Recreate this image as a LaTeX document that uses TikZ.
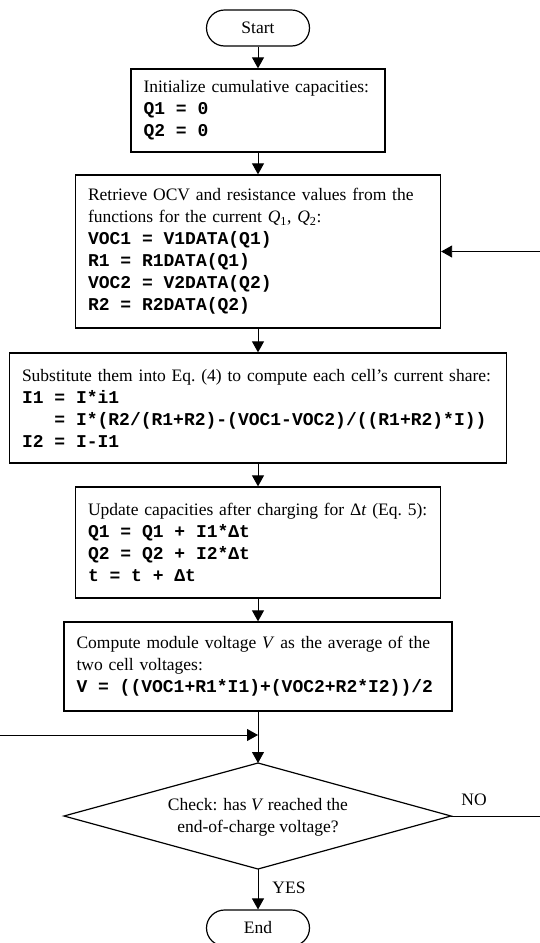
\documentclass[tikz,border=0pt]{standalone}
\usepackage{fontspec}
\setmainfont{Liberation Serif}
\newfontfamily\codefont{Liberation Mono}
\usetikzlibrary{arrows.meta}
\newcommand\codeln[1]{{\codefont\bfseries\fontsize{18}{22}\selectfont\spaceskip=10.8pt\relax #1}}
\newcommand\spreadln[2]{\makebox[#1][s]{#2}}
\begin{document}
\begin{tikzpicture}[x=1pt,y=-1pt,
  every node/.style={font=\fontsize{17.5}{22}\selectfont},
  box/.style={draw, line width=1.3pt, inner xsep=12.5pt, inner ysep=0pt, align=left},
  term/.style={draw, line width=1.2pt, rounded corners=18pt, minimum width=103pt, minimum height=36pt, inner sep=0pt},
  decision/.style={line width=1.2pt, line join=miter},
  conn/.style={line width=0.9pt, -{Triangle[length=11pt,width=12pt]}},
  plain/.style={line width=0.9pt},
  lbl/.style={inner sep=0pt}
]
\useasboundingbox (0,0) rectangle (540,943);

\node[term] (start) at (258,28) {Start};

\node[box, text width=229pt, minimum height=83pt] (b1) at (258,110.5) {%
\spreadln{226pt}{Initialize cumulative capacities:}\\
\codeln{Q1 = 0}\\
\codeln{Q2 = 0}};

\node[box, text width=340pt, minimum height=153pt] (b2) at (258,251.5) {%
\spreadln{327pt}{Retrieve OCV and resistance values from the}\\
functions for the current \textit{Q}\textsubscript{1}, \textit{Q}\textsubscript{2}:\\
\codeln{VOC1 = V1DATA(Q1)}\\
\codeln{R1 = R1DATA(Q1)}\\
\codeln{VOC2 = V2DATA(Q2)}\\
\codeln{R2 = R2DATA(Q2)}};

\node[box, text width=472pt, minimum height=110pt] (b3) at (258,408) {%
\spreadln{476pt}{Substitute them into Eq.\ (4) to compute each cell’s current share:}\\
\codeln{I1 = I*i1}\\
\codeln{\phantom{I1} = I*(R2/(R1+R2)-(VOC1-VOC2)/((R1+R2)*I))}\\
\codeln{I2 = I-I1}};

\node[box, text width=340pt, minimum height=111pt] (b4) at (258,542.5) {%
Update capacities after charging for Δ\textit{t} (Eq.\ 5):\\
\codeln{Q1 = Q1 + I1*Δt}\\
\codeln{Q2 = Q2 + I2*Δt}\\
\codeln{t = t + Δt}};

\node[box, text width=363pt, minimum height=89pt] (b5) at (258,666.5) {%
\spreadln{352pt}{Compute module voltage \textit{V} as the average of the}\\
two cell voltages:\\
\codeln{V = ((VOC1+R1*I1)+(VOC2+R2*I2))/2}};

\coordinate (dtop) at (258,763);
\coordinate (dright) at (451,816);
\coordinate (dbot) at (258,869);
\coordinate (dleft) at (64,816);
\draw[decision] (dtop) -- (dright) -- (dbot) -- (dleft) -- cycle;
\node[align=center, inner sep=0pt] (dia) at (258,817) {Check: has \textit{V} reached the\\end-of-charge voltage?};

\node[term] (end) at (258,928) {End};

\node[lbl] (no) at (474,800) {NO};
\node[lbl] (yes) at (289,888) {YES};

\coordinate (merge) at (258,735);
\coordinate (leftin) at (0,735);
\coordinate (fbin) at (540,251.5);
\coordinate (noout) at (540,816);

\draw[conn] (start) -- (b1);
\draw[conn] (b1) -- (b2);
\draw[conn] (b2) -- (b3);
\draw[conn] (b3) -- (b4);
\draw[conn] (b4) -- (b5);
\draw[conn] (b5.south) -- (dtop);
\draw[conn] (leftin) -- (merge);
\draw[conn] (fbin) -- (b2.east);
\draw[plain] (dright) -- (noout);
\draw[conn] (dbot) -- (end.north);
\end{tikzpicture}
\end{document}
